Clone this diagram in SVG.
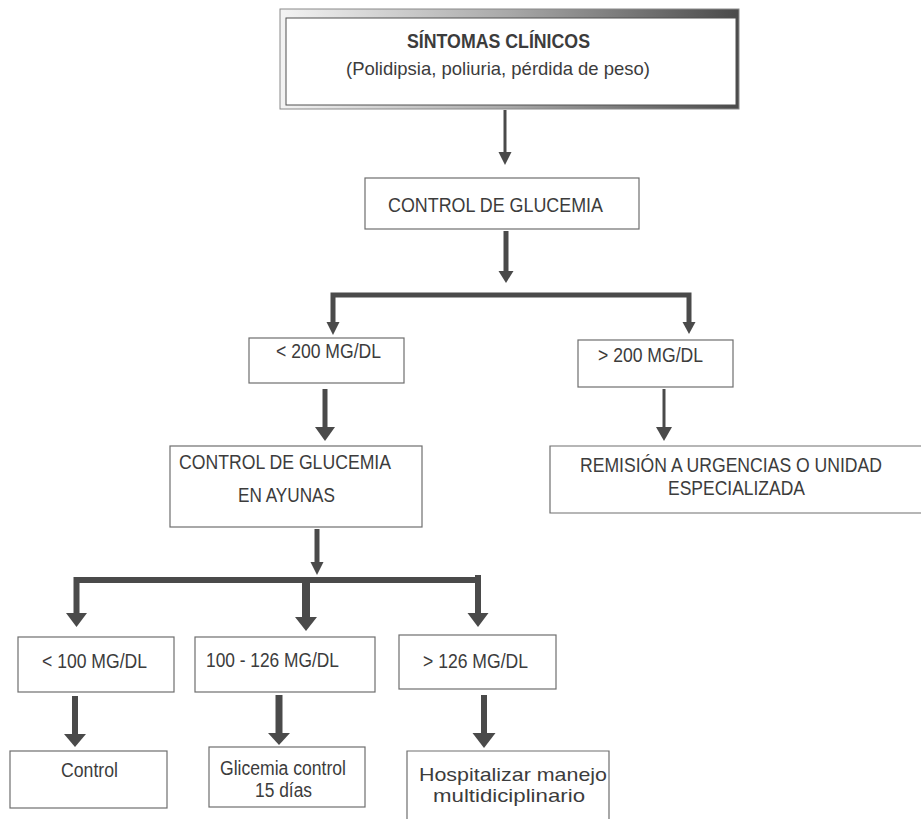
<svg xmlns="http://www.w3.org/2000/svg" width="921" height="819" viewBox="0 0 921 819">
  <defs>
    <linearGradient id="frameGrad" x1="0" y1="0" x2="1" y2="0">
      <stop offset="0" stop-color="#f4f4f4"/>
      <stop offset="0.5" stop-color="#a8a8a8"/>
      <stop offset="1" stop-color="#4a4a4a"/>
    </linearGradient>
    <style>
      .box { fill: #ffffff; stroke: #6e6e6e; stroke-width: 1.2; }
      .t { font-family: "Liberation Sans", Arial, sans-serif; font-size: 20px; fill: #3c3c3c; }
      .b { font-weight: bold; font-size: 19.5px; }
      .s { font-size: 18.5px; }
      .h { font-size: 19px; }
      .shaft { stroke: #4a4a4a; fill: none; stroke-linejoin: miter; stroke-linecap: butt; }
      .head { fill: #4a4a4a; stroke: none; }
    </style>
  </defs>
  <rect width="921" height="819" fill="#ffffff"/>

  <g id="connectors">
    <line class="shaft" x1="505" y1="110" x2="505" y2="153" stroke-width="3"/>
    <polygon class="head" points="498.5,152 511.5,152 505,165"/>

    <line class="shaft" x1="506" y1="231" x2="506" y2="272" stroke-width="5"/>
    <polygon class="head" points="498.5,271 513.5,271 506,283"/>

    <polyline class="shaft" points="333,323 333,295 689,295 689,323" stroke-width="5"/>
    <polygon class="head" points="326.5,322 339.5,322 333,335"/>
    <polygon class="head" points="682.5,322 695.5,322 689,334"/>

    <line class="shaft" x1="325" y1="389" x2="325" y2="428" stroke-width="5"/>
    <polygon class="head" points="315,427 335,427 325,441"/>

    <line class="shaft" x1="664" y1="389" x2="664" y2="428" stroke-width="3"/>
    <polygon class="head" points="656,427 672,427 664,441"/>

    <line class="shaft" x1="317" y1="529" x2="317" y2="563" stroke-width="5"/>
    <polygon class="head" points="310.5,562 323.5,562 317,575"/>

    <polyline class="shaft" points="76.5,614 76.5,580 478,580 478,614" stroke-width="6"/>
    <line class="shaft" x1="478" y1="575" x2="478" y2="583" stroke-width="6"/>
    <polygon class="head" points="66,613 87,613 76.5,627"/>
    <polygon class="head" points="467.5,613 488.5,613 478,627"/>
    <line class="shaft" x1="306" y1="580" x2="306" y2="618" stroke-width="8"/>
    <polygon class="head" points="295,617 317,617 306,631"/>

    <line class="shaft" x1="75" y1="696" x2="75" y2="735" stroke-width="6"/>
    <polygon class="head" points="64,734 86,734 75,747"/>

    <line class="shaft" x1="279" y1="695" x2="279" y2="734" stroke-width="7"/>
    <polygon class="head" points="268,733 290,733 279,745"/>

    <line class="shaft" x1="484" y1="695" x2="484" y2="734" stroke-width="6"/>
    <polygon class="head" points="472.5,733 495.5,733 484,748"/>
  </g>

  <g id="sintomas">
    <rect x="280" y="9" width="459" height="100" fill="url(#frameGrad)" stroke="#8a8a8a" stroke-width="1"/>
    <rect x="286" y="18" width="450" height="87" fill="#ffffff" stroke="#505050" stroke-width="1"/>
    <text class="t b" x="407" y="48" textLength="183" lengthAdjust="spacingAndGlyphs">SÍNTOMAS CLÍNICOS</text>
    <text class="t s" x="346" y="75" textLength="304" lengthAdjust="spacingAndGlyphs">(Polidipsia, poliuria, pérdida de peso)</text>
  </g>

  <g id="control-glucemia">
    <rect class="box" x="365" y="178" width="274" height="51"/>
    <text class="t" x="388" y="212" textLength="215" lengthAdjust="spacingAndGlyphs">CONTROL DE GLUCEMIA</text>
  </g>

  <g id="menor-200">
    <rect class="box" x="249" y="338" width="155" height="45"/>
    <text class="t" x="276" y="358" textLength="105" lengthAdjust="spacingAndGlyphs">&lt; 200 MG/DL</text>
  </g>

  <g id="mayor-200">
    <rect class="box" x="578" y="340" width="155" height="47"/>
    <text class="t" x="598" y="362" textLength="105" lengthAdjust="spacingAndGlyphs">&gt; 200 MG/DL</text>
  </g>

  <g id="control-ayunas">
    <rect class="box" x="170" y="446" width="252" height="81"/>
    <text class="t" x="179" y="469" textLength="212" lengthAdjust="spacingAndGlyphs">CONTROL DE GLUCEMIA</text>
    <text class="t" x="238" y="502" textLength="97" lengthAdjust="spacingAndGlyphs">EN AYUNAS</text>
  </g>

  <g id="remision">
    <path class="box" d="M921,446 H550 V513 H921"/>
    <text class="t" x="580" y="472" textLength="302" lengthAdjust="spacingAndGlyphs">REMISIÓN A URGENCIAS O UNIDAD</text>
    <text class="t" x="668" y="495" textLength="137" lengthAdjust="spacingAndGlyphs">ESPECIALIZADA</text>
  </g>

  <g id="menor-100">
    <rect class="box" x="18" y="637" width="156" height="55"/>
    <text class="t" x="42" y="668" textLength="105" lengthAdjust="spacingAndGlyphs">&lt; 100 MG/DL</text>
  </g>

  <g id="entre-100-126">
    <rect class="box" x="195" y="637" width="180" height="55"/>
    <text class="t" x="206" y="667" textLength="133" lengthAdjust="spacingAndGlyphs">100 - 126 MG/DL</text>
  </g>

  <g id="mayor-126">
    <rect class="box" x="399" y="635" width="157" height="54"/>
    <text class="t" x="423" y="668" textLength="105" lengthAdjust="spacingAndGlyphs">&gt; 126 MG/DL</text>
  </g>

  <g id="control">
    <rect class="box" x="10" y="751" width="157" height="57"/>
    <text class="t" x="61" y="777" textLength="57" lengthAdjust="spacingAndGlyphs">Control</text>
  </g>

  <g id="glicemia-control">
    <rect class="box" x="209" y="747" width="156" height="60"/>
    <text class="t" x="220" y="775" textLength="126" lengthAdjust="spacingAndGlyphs">Glicemia control</text>
    <text class="t" x="255" y="797" textLength="57" lengthAdjust="spacingAndGlyphs">15 días</text>
  </g>

  <g id="hospitalizar">
    <path class="box" d="M407,819 V751 H609 V819"/>
    <text class="t h" x="419" y="781" textLength="188" lengthAdjust="spacingAndGlyphs">Hospitalizar manejo</text>
    <text class="t h" x="433" y="802" textLength="152" lengthAdjust="spacingAndGlyphs">multidiciplinario</text>
  </g>
</svg>
